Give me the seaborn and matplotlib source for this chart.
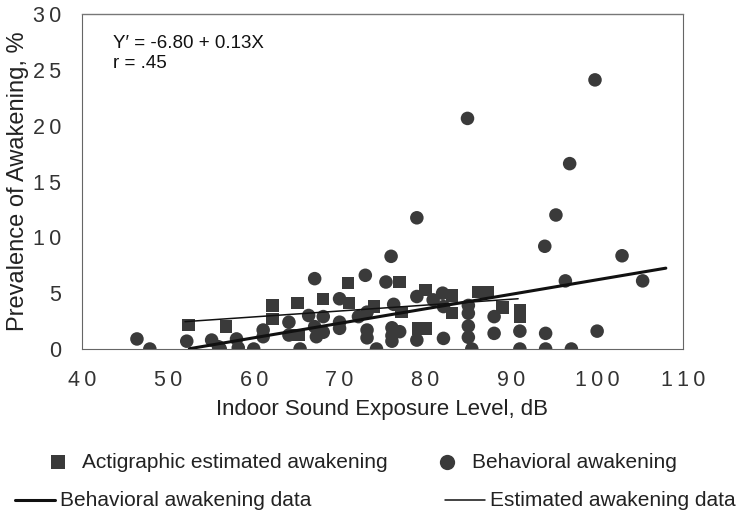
import numpy as np
import pandas as pd
import matplotlib
matplotlib.use("Agg")
import matplotlib.pyplot as plt
from matplotlib.lines import Line2D
from matplotlib.ticker import MultipleLocator
import seaborn as sns

# Actigraphic estimated awakening (squares)
est_db = [52.4, 56.8, 62.2, 62.2, 65.1, 65.2, 68.1, 71.0, 71.1, 74.0, 77.0,
          77.2, 79.2, 80.1, 80.0, 83.1, 83.1, 86.2, 87.3, 89.0, 91.0, 91.0]
est_pct = [2.15, 2.0, 3.9, 2.7, 4.1, 1.25, 4.5, 5.9, 4.1, 3.8, 6.0,
           3.3, 1.85, 1.85, 5.3, 4.8, 3.2, 5.1, 5.1, 3.7, 3.5, 2.9]

# Behavioral awakening (circles)
beh_db = [46.4, 47.9, 52.2, 55.1, 55.9, 56.1, 58.0, 58.2, 60.0, 61.1, 61.1,
          64.1, 64.1, 65.4, 66.4, 67.1, 67.1, 67.3, 68.1, 68.1, 70.0, 70.0,
          70.0, 72.2, 73.0, 73.2, 73.2, 73.2, 74.3, 75.4, 76.0, 76.3, 76.1,
          76.1, 76.1, 77.0, 79.0, 79.0, 79.0, 80.9, 82.0, 82.1, 82.1, 84.9,
          85.0, 85.0, 85.0, 85.0, 85.4, 88.0, 88.0, 91.0, 91.0, 93.9, 94.0,
          94.0, 95.2, 96.3, 96.8, 97.0, 99.75, 100.0, 102.9, 105.3]
beh_pct = [0.9, 0.0, 0.7, 0.8, 0.2, 0.0, 0.9, 0.1, 0.0, 1.7, 1.1,
           2.4, 1.25, 0.0, 3.0, 6.3, 2.0, 1.1, 2.9, 1.5, 4.5, 2.4,
           1.85, 2.9, 6.6, 3.3, 1.7, 1.0, 0.0, 6.0, 8.3, 4.0, 1.9,
           1.2, 0.7, 1.55, 11.75, 4.7, 0.8, 4.4, 5.0, 3.8, 0.95, 20.65,
           3.9, 3.2, 2.05, 1.05, 0.0, 2.9, 1.4, 1.6, 0.0, 9.2, 1.4,
           0.0, 12.0, 6.1, 16.6, 0.0, 24.1, 1.6, 8.35, 6.1]

# Regression lines
beh_intercept, beh_slope = -6.80, 0.13
beh_line_db = [52.5, 108.0]
est_line_db = [52.0, 90.8]
est_line_pct = [2.45, 4.5]

x_ticks = [40, 50, 60, 70, 80, 90, 100, 110]
y_ticks = [0, 5, 10, 15, 20, 25, 30]

sns.set_style("white")
plt.rcParams["font.family"] = ["Liberation Sans", "DejaVu Sans"]

W, H = 746, 513
fig = plt.figure(figsize=(W / 100, H / 100), dpi=100)
ax = fig.add_axes([82 / W, 1 - 349 / H, (683 - 82) / W, (349 - 14) / H])

dot = "#3a3a3a"
ink = "#222222"
est_df = pd.DataFrame({"db": est_db, "pct": est_pct})
beh_df = pd.DataFrame({"db": beh_db, "pct": beh_pct})

sns.scatterplot(data=est_df, x="db", y="pct", marker="s", s=80, color=dot,
                edgecolor="none", ax=ax, zorder=3)
sns.scatterplot(data=beh_df, x="db", y="pct", marker="o", s=95, color=dot,
                edgecolor="none", ax=ax, zorder=3)

bx = np.array(beh_line_db)
ax.plot(bx, beh_intercept + beh_slope * bx, color="#111111", lw=2.2, zorder=4)
ax.plot(est_line_db, est_line_pct, color="#111111", lw=1.1, zorder=4)


def spaced(v):
    # letter-spaced digits for the tick labels
    return "\u2009".join(str(v))


ax.set_xlim(40, 110)
ax.set_ylim(0, 30)
ax.set_xticks(x_ticks)
ax.set_yticks(y_ticks)
ax.set_xticklabels([spaced(t) for t in x_ticks])
ax.set_yticklabels([spaced(t) for t in y_ticks])
ax.xaxis.set_minor_locator(MultipleLocator(5))
ax.yaxis.set_minor_locator(MultipleLocator(2.5))
ax.tick_params(which="major", direction="in", length=4, width=0.6,
               color="#666666", labelsize=15.5, labelcolor="#333333")
ax.tick_params(which="minor", direction="in", length=2, width=0.5,
               color="#888888")
ax.tick_params(axis="x", pad=15)
ax.tick_params(axis="y", pad=15)

for side in ["left", "bottom", "right"]:
    ax.spines[side].set_linestyle((0, (1, 1)))
    ax.spines[side].set_linewidth(0.8)
    ax.spines[side].set_color("#666666")
ax.spines["top"].set_linewidth(1.0)
ax.spines["top"].set_color("#777777")

ax.set_xlabel("Indoor Sound Exposure Level, dB", fontsize=16,
              color=ink, labelpad=6)
ax.set_ylabel("Prevalence of Awakening, %", fontsize=17,
              color=ink, labelpad=3)

ax.text((113 - 82) / (683 - 82), (349 - 43) / 335, "Y\u2032 = -6.80 + 0.13X",
        transform=ax.transAxes, fontsize=13.5, color="#111111", va="center")
ax.text((113 - 82) / (683 - 82), (349 - 63) / 335, "r = .45",
        transform=ax.transAxes, fontsize=13.5, color="#111111", va="center")


# Legend drawn in figure pixel coordinates (two rows, two columns)
def fx(px):
    return px / W


def fy(py):
    return 1 - py / H


row1, row2 = 462, 500
leg_fs = 15
fig.add_artist(Line2D([fx(58)], [fy(row1)], marker="s", markersize=10,
                      color=dot, markeredgewidth=0, linestyle="none"))
fig.text(fx(82), fy(row1), "Actigraphic estimated awakening",
         fontsize=leg_fs, color=ink, va="center")
fig.add_artist(Line2D([fx(447)], [fy(row1)], marker="o", markersize=11,
                      color=dot, markeredgewidth=0, linestyle="none"))
fig.text(fx(472), fy(row1), "Behavioral awakening",
         fontsize=leg_fs, color=ink, va="center")
fig.add_artist(Line2D([fx(15), fx(55)], [fy(row2), fy(row2)],
                      color="#111111", lw=2.2))
fig.text(fx(60), fy(row2), "Behavioral awakening data",
         fontsize=leg_fs, color=ink, va="center")
fig.add_artist(Line2D([fx(445), fx(485)], [fy(row2), fy(row2)],
                      color="#111111", lw=1.1))
fig.text(fx(490), fy(row2), "Estimated awakening data",
         fontsize=leg_fs, color=ink, va="center")

fig.savefig("out.png", dpi=100)
